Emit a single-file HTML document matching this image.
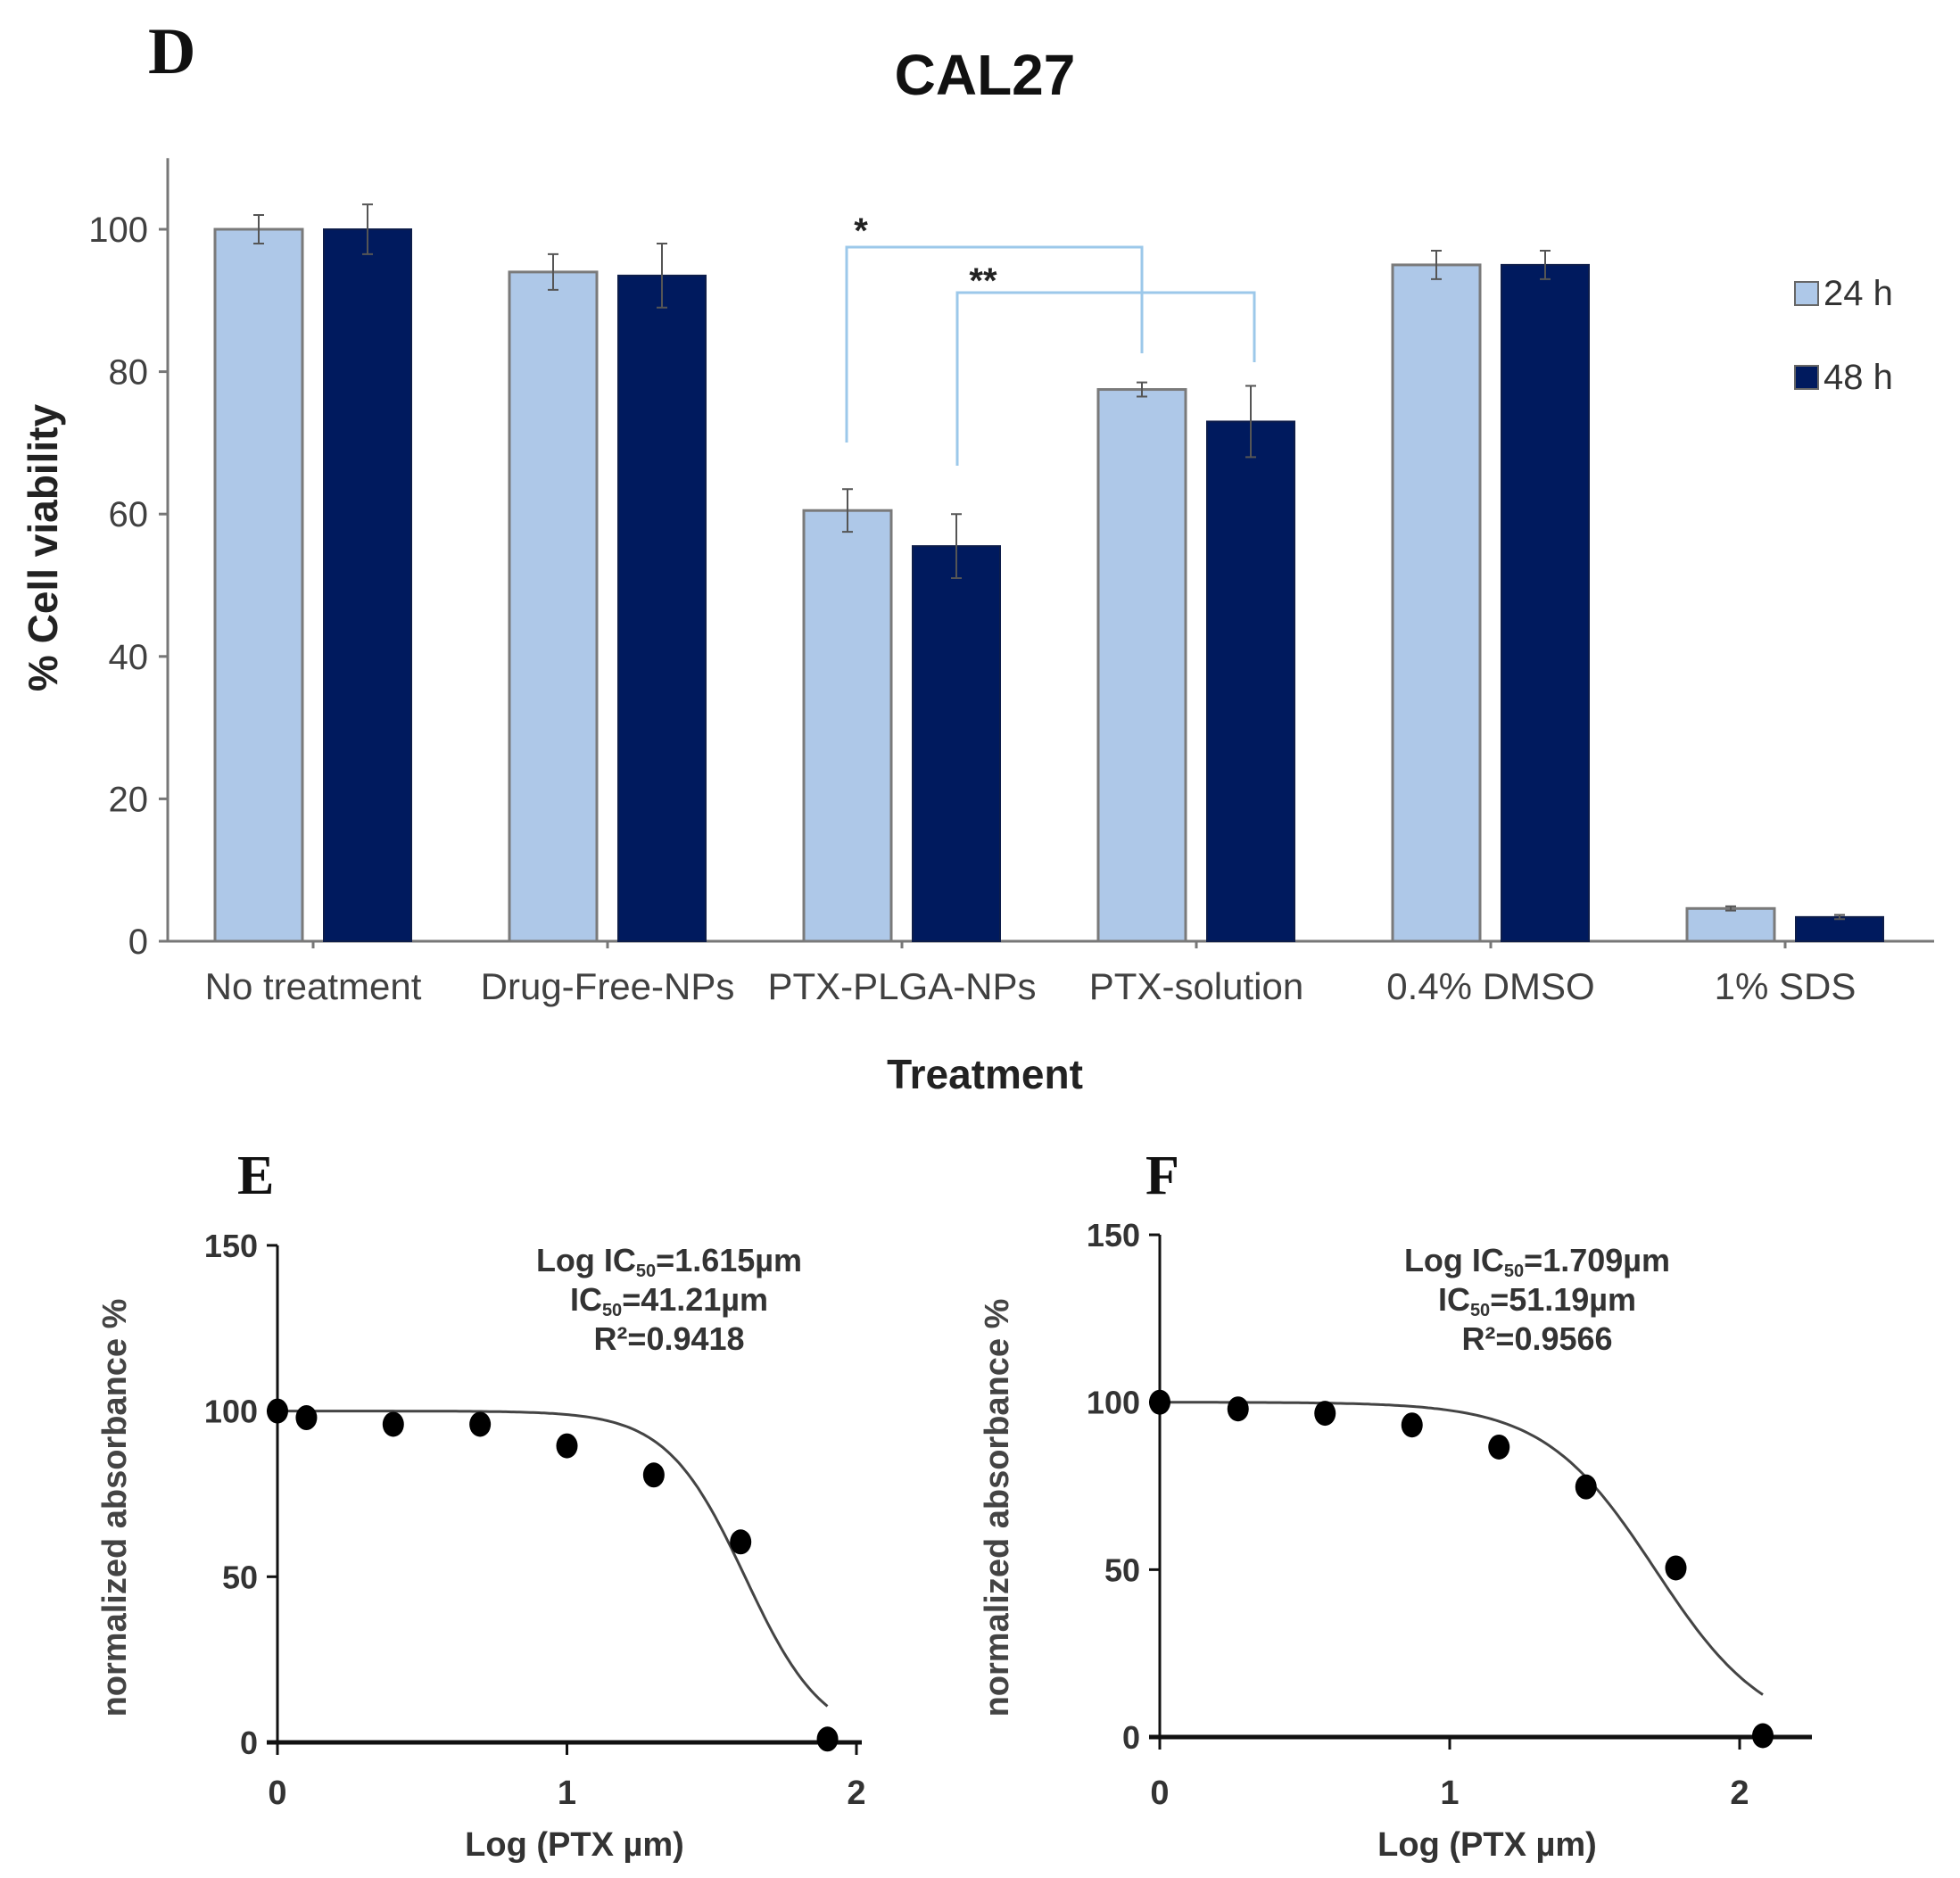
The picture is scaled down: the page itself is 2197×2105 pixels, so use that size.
<!DOCTYPE html>
<html><head><meta charset="utf-8"><style>
html,body{margin:0;padding:0;background:#fff;}
svg{display:block;font-family:"Liberation Sans",Arial,sans-serif;}
</style></head><body>
<svg id="fig" width="2197" height="2105" viewBox="0 0 2197 2105" xmlns="http://www.w3.org/2000/svg">
<text x="166" y="82" font-family="Liberation Serif,serif" font-weight="bold" font-size="74" fill="#111">D</text>
<text x="1104" y="106" text-anchor="middle" font-weight="bold" font-size="64" fill="#111">CAL27</text>
<g id="barChart"></g>
<text x="266" y="1338" font-family="Liberation Serif,serif" font-weight="bold" font-size="62" fill="#111">E</text>
<text x="1284" y="1338" font-family="Liberation Serif,serif" font-weight="bold" font-size="62" fill="#111">F</text>
<g id="curveE"></g>
<g id="curveF"></g>
</svg>
<script>
// ---- Panel D data ----
const categories = ["No treatment","Drug-Free-NPs","PTX-PLGA-NPs","PTX-solution","0.4% DMSO","1% SDS"];
const values24 = [100, 94, 60.5, 77.5, 95, 4.6];
const values48 = [100, 93.5, 55.5, 73, 95, 3.4];
const err24 = [2, 2.5, 3, 1, 2, 0.3];
const err48 = [3.5, 4.5, 4.5, 5, 2, 0.3];
const yTicksD = [0, 20, 40, 60, 80, 100];
// ---- Panel E data ----
const xE = [0, 0.1, 0.4, 0.7, 1.0, 1.3, 1.6, 1.9];
const yE = [100, 98, 96, 96, 89.5, 80.7, 60.5, 1];
const fitE = [1.615, 3.2]; // logIC50, hill slope
const annE = ["Log IC50=1.615µm", "IC50=41.21µm", "R²=0.9418"];
// ---- Panel F data ----
const xF = [0, 0.27, 0.57, 0.87, 1.17, 1.47, 1.78, 2.08];
const yF = [100, 98, 96.7, 93.2, 86.6, 74.7, 50.5, 0.4];
const fitF = [1.709, 2.26];
const annF = ["Log IC50=1.709µm", "IC50=51.19µm", "R²=0.9566"];
const yTicksEF = [0, 50, 100, 150];
const xTicksEF = [0, 1, 2];

const NS = "http://www.w3.org/2000/svg";
function mk(parent, tag, attrs, text){
  const el = document.createElementNS(NS, tag);
  for (const k in attrs) el.setAttribute(k, attrs[k]);
  if (text !== undefined) el.textContent = text;
  parent.appendChild(el);
  return el;
}

// ===== Bar chart D =====
(function(){
  const g = document.getElementById("barChart");
  const X0 = 188, Y0 = 1055, PX = 7.98;
  const yS = v => Y0 - v * PX;
  const cx = i => 351 + i * 330;
  let el;
  el = mk(g, "line", {x1:X0, y1:yS(110), x2:X0, y2:Y0, stroke:"#777", "stroke-width":3});
  
  
  el = mk(g, "line", {x1:X0-8, y1:Y0, x2:2168, y2:Y0, stroke:"#777", "stroke-width":3});
  
  
  yTicksD.forEach(t => {
    let tk = mk(g, "line", {x1:X0-10, y1:yS(t), x2:X0, y2:yS(t), stroke:"#777", "stroke-width":3});
    
    
    let lb = mk(g, "text", {x:166, y:yS(t)+14, "text-anchor":"end", "font-size":40, fill:"#404040"}, String(t));
    
    
  });
  categories.forEach((c, i) => {
    const x = cx(i);
    let tk = mk(g, "line", {x1:x, y1:Y0, x2:x, y2:Y0+8, stroke:"#777", "stroke-width":3});
    
    
    let b1 = mk(g, "rect", {x:x-110, y:yS(values24[i]), width:98, height:values24[i]*PX, fill:"#aec8e8", stroke:"#7a7a7a", "stroke-width":3});
    
    
    let b2 = mk(g, "rect", {x:x+12, y:yS(values48[i]), width:98, height:values48[i]*PX, fill:"#001a5e", stroke:"#0d1d4a", "stroke-width":2});
    
    
    [[x-61, values24[i], err24[i]], [x+61, values48[i], err48[i]]].forEach(([ex, v, e]) => {
      let eb = mk(g, "path", {d:`M${ex},${yS(v+e)}V${yS(v-e)}M${ex-6},${yS(v+e)}H${ex+6}M${ex-6},${yS(v-e)}H${ex+6}`, stroke:"#555", "stroke-width":2, fill:"none"});
      
      
    });
    let lb = mk(g, "text", {x:x, y:1120, "text-anchor":"middle", "font-size":42, fill:"#404040"}, c);
    
    
  });
  let yt = mk(g, "text", {x:0, y:0, transform:"translate(64,614) rotate(-90)", "text-anchor":"middle", "font-size":46, "font-weight":"bold", fill:"#222"}, "% Cell viability");
  
  
  let xt = mk(g, "text", {x:1104, y:1220, "text-anchor":"middle", "font-size":46, "font-weight":"bold", fill:"#222"}, "Treatment");
  
  
  // significance brackets
  let s1 = mk(g, "path", {d:"M949,496V277H1280V396", stroke:"#9cc8ea", "stroke-width":3, fill:"none"});
  
  
  let s2 = mk(g, "path", {d:"M1073,522V328H1406V406", stroke:"#9cc8ea", "stroke-width":3, fill:"none"});
  
  
  let st1 = mk(g, "text", {x:965, y:272, "text-anchor":"middle", "font-size":40, "font-weight":"bold", fill:"#222"}, "*");
  
  
  let st2 = mk(g, "text", {x:1102, y:328, "text-anchor":"middle", "font-size":40, "font-weight":"bold", fill:"#222"}, "**");
  
  
  // legend
  [["24 h", "#aec8e8", 316], ["48 h", "#001a5e", 410]].forEach(([t, col, y]) => {
    let sq = mk(g, "rect", {x:2012, y:y, width:26, height:26, fill:col, stroke:"#666", "stroke-width":2});
    
    
    let lt = mk(g, "text", {x:2044, y:y+26, "font-size":40, fill:"#333"}, t);
    
    
  });
})();

// ===== Dose-response panels =====
function drawCurve(gid, X0, Y0, xUnit, yUnit, xEnd, xs, ys, fit, ann, annX, titleX){
  const g = document.getElementById(gid);
  const xS = v => X0 + v * xUnit;
  const yS = v => Y0 - v * yUnit;
  let el;
  el = mk(g, "line", {x1:X0, y1:yS(150), x2:X0, y2:Y0+12, stroke:"#111", "stroke-width":3});
  
  
  el = mk(g, "line", {x1:X0-12, y1:Y0, x2:xEnd, y2:Y0, stroke:"#111", "stroke-width":5});
  
  
  yTicksEF.forEach(t => {
    let tk = mk(g, "line", {x1:X0-12, y1:yS(t), x2:X0, y2:yS(t), stroke:"#111", "stroke-width":3});
    
    
    let lb = mk(g, "text", {x:X0-22, y:yS(t)+13, "text-anchor":"end", "font-size":36, "font-weight":"bold", fill:"#333"}, String(t));
    
    
  });
  xTicksEF.forEach(t => {
    let tk = mk(g, "line", {x1:xS(t), y1:Y0, x2:xS(t), y2:Y0+14, stroke:"#111", "stroke-width":3});
    
    
    let lb = mk(g, "text", {x:xS(t), y:2022, "text-anchor":"middle", "font-size":38, "font-weight":"bold", fill:"#333"}, String(t));
    
    
  });
  // fitted curve
  const xmax = xs[xs.length - 1];
  let d = "";
  for (let k = 0; k <= 200; k++) {
    const x = xmax * k / 200;
    const y = 100 / (1 + Math.pow(10, (x - fit[0]) * fit[1]));
    d += (k ? "L" : "M") + xS(x).toFixed(1) + "," + yS(y).toFixed(1);
  }
  let c = mk(g, "path", {d:d, stroke:"#444", "stroke-width":3, fill:"none"});
  
  
  xs.forEach((x, i) => {
    let p = mk(g, "ellipse", {cx:xS(x), cy:yS(ys[i]), rx:12, ry:14, fill:"#000"});
    
    
  });
  ann.forEach((t, i) => {
    const m = t.match(/^(.*IC)(50)(.*)$/);
    let tx = mk(g, "text", {x:annX, y:1425 + i * 44, "text-anchor":"middle", "font-size":36, "font-weight":"bold", fill:"#333"});
    
    
    if (m) {
      mk(tx, "tspan", {}, m[1]);
      mk(tx, "tspan", {"font-size":20, dy:6}, m[2]);
      mk(tx, "tspan", {dy:-6}, m[3]);
    } else tx.textContent = t;
  });
  let yt = mk(g, "text", {x:0, y:0, transform:`translate(${X0-170},1690) rotate(-90)`, "text-anchor":"middle", "font-size":38, "font-weight":"bold", fill:"#444"}, "normalized absorbance %");
  
  
  let xt = mk(g, "text", {x:titleX, y:2080, "text-anchor":"middle", "font-size":38, "font-weight":"bold", fill:"#333"}, "Log (PTX µm)");
  
  
}
drawCurve("curveE", 311, 1953, 324.5, 3.714, 966, xE, yE, fitE, annE, 750, 644);
drawCurve("curveF", 1300, 1947, 325, 3.753, 2031, xF, yF, fitF, annF, 1723, 1667);
</script>
</body></html>
